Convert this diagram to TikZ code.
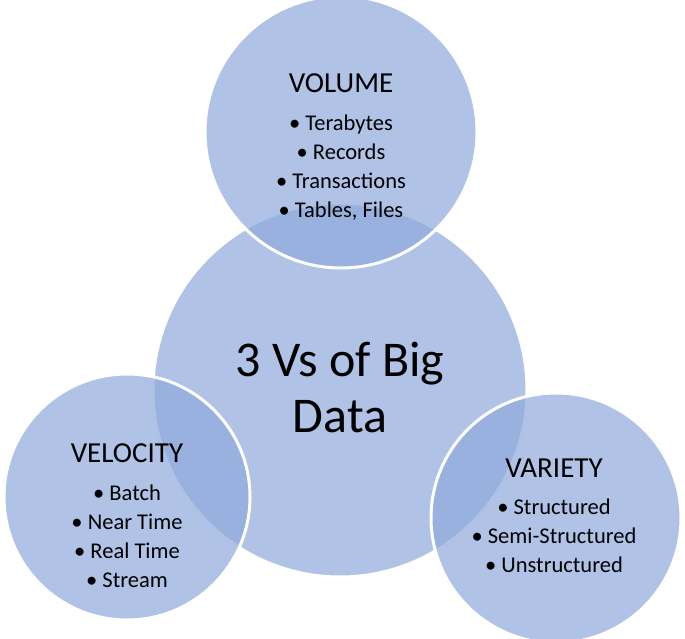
\documentclass[tikz,border=0pt]{standalone}
\usepackage{fontspec}
\setmainfont{Carlito}
\definecolor{vblue}{HTML}{8EA9DB}
\begin{document}
\begin{tikzpicture}[x=1pt,y=1pt,
  bubble/.style={circle,fill=vblue,fill opacity=0.7,draw=white,line width=3pt,inner sep=0pt},
  head/.style={font=\fontsize{29}{32}\selectfont,text=black},
  items/.style={font=\fontsize{22.5}{29}\selectfont,align=center,text=black}]
\useasboundingbox (0,0) rectangle (685,639);
\node[bubble,minimum size=374pt] (c) at (340,249) {};
\node[bubble,minimum size=272pt] (t) at (341,507) {};
\node[bubble,minimum size=246pt] (l) at (127,142) {};
\node[bubble,minimum size=250pt] (r) at (556,121) {};
\node[font=\fontsize{50}{56}\selectfont,align=center] (ct) at (340,252) {3 Vs of Big\\Data};
\node[head] (th) at (341,556) {VOLUME};
\node[items,anchor=north] (ti) at (341,528) {• Terabytes\\• Records\\• Transactions\\• Tables, Files};
\node[head] (lh) at (127,186) {VELOCITY};
\node[items,anchor=north] (li) at (127,158) {• Batch\\• Near Time\\• Real Time\\• Stream};
\node[head] (rh) at (554,171) {VARIETY};
\node[items,anchor=north] (ri) at (554,114+30) {• Structured\\• Semi-Structured\\• Unstructured};
\end{tikzpicture}
\end{document}
